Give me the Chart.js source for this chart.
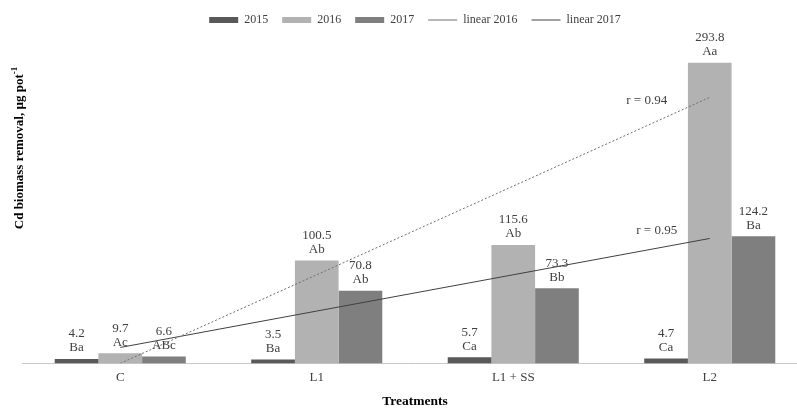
<!DOCTYPE html>
<html>
<head>
<meta charset="utf-8">
<script src="https://cdn.jsdelivr.net/npm/chart.js@4.4.1/dist/chart.umd.min.js"></script>
<style>
  html, body { margin: 0; padding: 0; background: #fff; overflow: hidden; }
  #wrap { width: 830px; height: 410px; }
</style>
</head>
<body>
<div id="wrap"><canvas id="cdChart"></canvas></div>
<script>
// treatments and yearly values
const treatments = ['C', 'L1', 'L1 + SS', 'L2'];
const values2015 = [4.2, 3.5, 5.7, 4.7];
const values2016 = [9.7, 100.5, 115.6, 293.8];
const values2017 = [6.6, 70.8, 73.3, 124.2];
const letters2015 = ['Ba', 'Ba', 'Ca', 'Ca'];
const letters2016 = ['Ac', 'Ab', 'Ab', 'Aa'];
const letters2017 = ['ABc', 'Ab', 'Bb', 'Ba'];
// trend lines
const linear2016 = [-0.2, 86.5, 173.2, 260.0];
const linear2017 = [15.4, 51.0, 86.5, 122.0];
const rLabels = ['r = 0.94', 'r = 0.95'];

const SERIF = '"Liberation Serif", "Times New Roman", serif';
const TEXT = '#404040';

// value + letter above each bar
const barLabels = {
  id: 'barLabels',
  afterDatasetsDraw(chart) {
    const ctx = chart.ctx;
    ctx.save();
    ctx.font = '13px ' + SERIF;
    ctx.fillStyle = TEXT;
    ctx.textAlign = 'center';
    ctx.textBaseline = 'middle';
    chart.data.datasets.forEach((ds, i) => {
      if (!ds.letters) return;
      chart.getDatasetMeta(i).data.forEach((bar, j) => {
        ctx.fillText(ds.data[j].toFixed(1), bar.x, bar.y - 25);
        ctx.fillText(ds.letters[j], bar.x, bar.y - 11);
      });
    });
    // r values near the end of the trend lines
    const xs = chart.scales.x, ys = chart.scales.y;
    const xEnd = xs.getPixelForValue(3);
    ctx.fillText(rLabels[0], xEnd - 63, ys.getPixelForValue(linear2016[3]) + 3);
    ctx.fillText(rLabels[1], xEnd - 53, ys.getPixelForValue(linear2017[3]) - 8);
    ctx.restore();
  }
};

// rotated y title with superscript
const yTitle = {
  id: 'yTitle',
  afterDraw(chart) {
    const ctx = chart.ctx;
    ctx.save();
    ctx.translate(20, 148);
    ctx.rotate(-Math.PI / 2);
    ctx.fillStyle = '#000';
    ctx.textBaseline = 'middle';
    const main = 'Cd biomass removal, µg pot';
    ctx.font = 'bold 13px ' + SERIF;
    const w1 = ctx.measureText(main).width;
    ctx.font = 'bold 9px ' + SERIF;
    const w2 = ctx.measureText('-1').width;
    const x0 = -(w1 + w2) / 2;
    ctx.font = 'bold 13px ' + SERIF;
    ctx.textAlign = 'left';
    ctx.fillText(main, x0, 0);
    ctx.font = 'bold 9px ' + SERIF;
    ctx.fillText('-1', x0 + w1, -5);
    ctx.restore();
  }
};

new Chart(document.getElementById('cdChart').getContext('2d'), {
  type: 'bar',
  data: {
    labels: treatments,
    datasets: [
      { label: '2015', data: values2015, letters: letters2015, backgroundColor: '#595959', order: 2 },
      { label: '2016', data: values2016, letters: letters2016, backgroundColor: '#b2b2b2', order: 2 },
      { label: '2017', data: values2017, letters: letters2017, backgroundColor: '#7f7f7f', order: 2 },
      {
        type: 'line', label: 'linear 2016', data: linear2016, borderColor: '#6f6f6f',
        borderWidth: 1, borderDash: [2, 2], pointRadius: 0, fill: false, order: 1
      },
      {
        type: 'line', label: 'linear 2017', data: linear2017, borderColor: '#404040',
        borderWidth: 1, pointRadius: 0, fill: false, order: 1
      }
    ]
  },
  options: {
    responsive: true,
    maintainAspectRatio: false,
    animation: false,
    layout: { padding: { left: 22, right: 22, top: 0, bottom: 0 } },
    datasets: { bar: { categoryPercentage: 0.667, barPercentage: 1.0, clip: false } },
    plugins: {
      tooltip: { enabled: false },
      legend: {
        display: true,
        position: 'top',
        labels: {
          color: TEXT,
          font: { family: SERIF, size: 12 },
          usePointStyle: true,
          pointStyleWidth: 29,
          boxHeight: 6,
          padding: 14,
          sort: (a, b) => a.datasetIndex - b.datasetIndex,
          generateLabels(chart) {
            const items = Chart.defaults.plugins.legend.labels.generateLabels(chart);
            return items.map((it) => {
              const ds = chart.data.datasets[it.datasetIndex];
              it.pointStyle = ds.type === 'line' ? 'line' : 'rect';
              if (ds.type !== 'line') { it.strokeStyle = ds.backgroundColor; it.lineWidth = 0; }
              return it;
            });
          }
        }
      }
    },
    scales: {
      x: {
        grid: { display: false, drawTicks: false },
        border: { display: true, color: '#c8c8c8', width: 1 },
        ticks: { color: TEXT, font: { family: SERIF, size: 13 }, padding: 7 },
        title: {
          display: true, text: 'Treatments', color: '#000',
          font: { family: SERIF, size: 13.5, weight: 'bold' },
          padding: { top: 1, bottom: 0 }
        }
      },
      y: {
        display: false,
        min: 0,
        max: 320
      }
    }
  },
  plugins: [barLabels, yTitle]
});
</script>
</body>
</html>
